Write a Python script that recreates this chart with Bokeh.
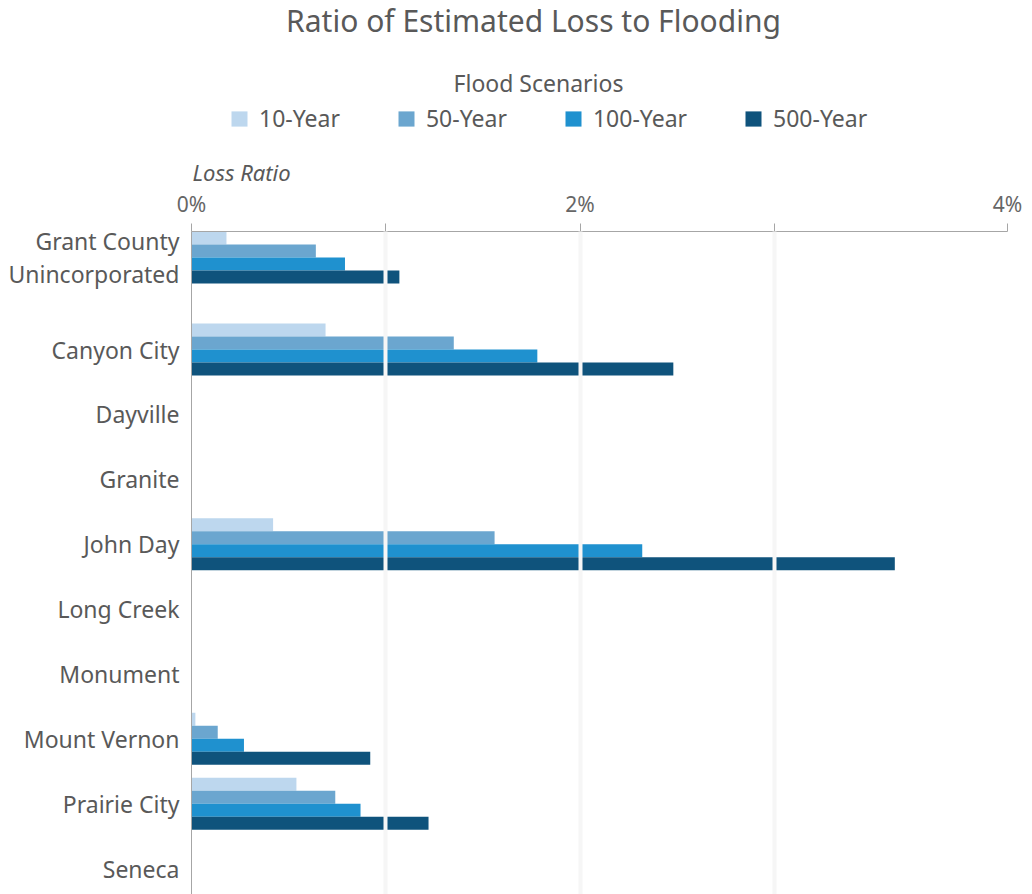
from bokeh.plotting import figure
from bokeh.models import (FactorRange, Range1d, Label, Legend, LegendItem,
                          FixedTicker, ColumnDataSource)
from bokeh.transform import dodge
from bokeh.layouts import column
from bokeh.embed import file_html
from bokeh.resources import INLINE

# ---------------- data ----------------
categories = ["Grant County\nUnincorporated", "Canyon City", "Dayville", "Granite",
              "John Day", "Long Creek", "Monument", "Mount Vernon", "Prairie City", "Seneca"]
groups = ["top", "rest", "rest", "rest", "rest", "rest", "rest", "rest", "rest", "rest"]
scenarios = ["10-Year", "50-Year", "100-Year", "500-Year"]
loss_10 = [0.18, 0.69, 0, 0, 0.42, 0, 0, 0.02, 0.54, 0]
loss_50 = [0.64, 1.35, 0, 0, 1.56, 0, 0, 0.135, 0.74, 0]
loss_100 = [0.79, 1.78, 0, 0, 2.32, 0, 0, 0.27, 0.87, 0]
loss_500 = [1.07, 2.48, 0, 0, 3.62, 0, 0, 0.92, 1.22, 0]
x_ticks = [0, 1, 2, 3, 4.2]
x_tick_labels = ["0%", "", "2%", "", "4%"]
colors = ["#BDD7EE", "#6BA6CF", "#1F91CF", "#0F537C"]

FONT = "Noto Sans"
TXT = "#595959"
W = 1032
TOP_H = 186
FRAME_LEFT = 191   # header frame is aligned with the chart frame


def hx(x):  # page x -> header frame x
    return x - FRAME_LEFT


def hy(y):  # page y (from top) -> header frame y (from bottom)
    return TOP_H - y


# ---------------- header: titles + legend ----------------
head = figure(width=W, height=TOP_H, x_range=Range1d(0, 1), y_range=Range1d(0, 1),
              x_axis_type=None, y_axis_type=None, output_backend="svg",
              toolbar_location=None, min_border=0, min_border_left=FRAME_LEFT,
              min_border_right=25, outline_line_color=None)

head.add_layout(Label(x=hx(533), y=hy(20), x_units="screen", y_units="screen",
                      text="Ratio of Estimated Loss to Flooding", text_align="center",
                      text_baseline="middle", text_font=FONT, text_font_size="30px",
                      text_color=TXT))
head.add_layout(Label(x=hx(538), y=hy(82), x_units="screen", y_units="screen",
                      text="Flood Scenarios", text_align="center", text_baseline="middle",
                      text_font=FONT, text_font_size="23px", text_color=TXT))
head.add_layout(Label(x=hx(192), y=hy(171), x_units="screen", y_units="screen",
                      text="Loss Ratio", text_align="left", text_baseline="middle",
                      text_font=FONT, text_font_size="22px", text_font_style="italic",
                      text_color=TXT))

# legend swatches: hidden renderers that only carry the series colours
items = []
for s, col in zip(scenarios, colors):
    r = head.hbar(y=[0.5], left=[0], right=[0], height=0.1, fill_color=col,
                  line_color=None, visible=False)
    items.append(LegendItem(label=s, renderers=[r]))
legend = Legend(items=items, orientation="horizontal", location=(hx(229), hy(134)),
                label_text_font=FONT, label_text_font_size="23px", label_text_color=TXT,
                glyph_width=20, glyph_height=19, label_standoff=10, spacing=56,
                border_line_color=None, background_fill_alpha=0, padding=4, margin=0)
head.add_layout(legend, "center")

# ---------------- main chart ----------------
factors = [(g, c) for g, c in zip(groups, categories)]
src = ColumnDataSource(dict(y=factors, v10=loss_10, v50=loss_50, v100=loss_100, v500=loss_500))

y_range = FactorRange(factors=list(reversed(factors)), group_padding=0.42,
                      range_padding=-0.1, range_padding_units="absolute")

p = figure(width=W, height=894 - TOP_H, y_range=y_range, x_range=Range1d(0, 4.2),
           x_axis_location="above", output_backend="svg", toolbar_location=None,
           title=None, min_border_left=FRAME_LEFT, min_border_right=25, min_border_top=42,
           min_border_bottom=0, outline_line_color=None)

offsets = [0.3, 0.1, -0.1, -0.3]
cols = ["v10", "v50", "v100", "v500"]
for c, off, col in zip(cols, offsets, colors):
    p.hbar(y=dodge("y", off, range=p.y_range), left=0, right=c, height=0.2,
           source=src, fill_color=col, line_color=None)

xa = p.xaxis[0]
xa.ticker = FixedTicker(ticks=x_ticks)
xa.major_label_overrides = {t: l for t, l in zip(x_ticks, x_tick_labels)}
xa.axis_line_color = "#A6A6A6"
xa.major_tick_line_color = "#A6A6A6"
xa.major_tick_in = 0
xa.major_tick_out = 8
xa.minor_tick_line_color = None
xa.major_label_standoff = 6
xa.major_label_text_font = FONT
xa.major_label_text_font_size = "21px"
xa.major_label_text_color = "#666666"

ya = p.yaxis[0]
ya.axis_line_color = "#A6A6A6"
ya.major_tick_line_color = None
ya.minor_tick_line_color = None
ya.major_label_text_font = FONT
ya.major_label_text_font_size = "23px"
ya.major_label_text_color = TXT
ya.major_label_text_line_height = 1.05
ya.group_text_font_size = "0px"
ya.group_text_alpha = 0
ya.separator_line_color = None
ya.major_label_standoff = 6

p.ygrid.grid_line_color = None
p.xgrid.ticker = FixedTicker(ticks=[1, 2, 3])
p.xgrid.grid_line_color = "#F6F6F6"
p.xgrid.grid_line_width = 4
p.xgrid.level = "overlay"

layout = column(head, p, spacing=0)
open("out.html", "w").write(file_html(layout, INLINE))
